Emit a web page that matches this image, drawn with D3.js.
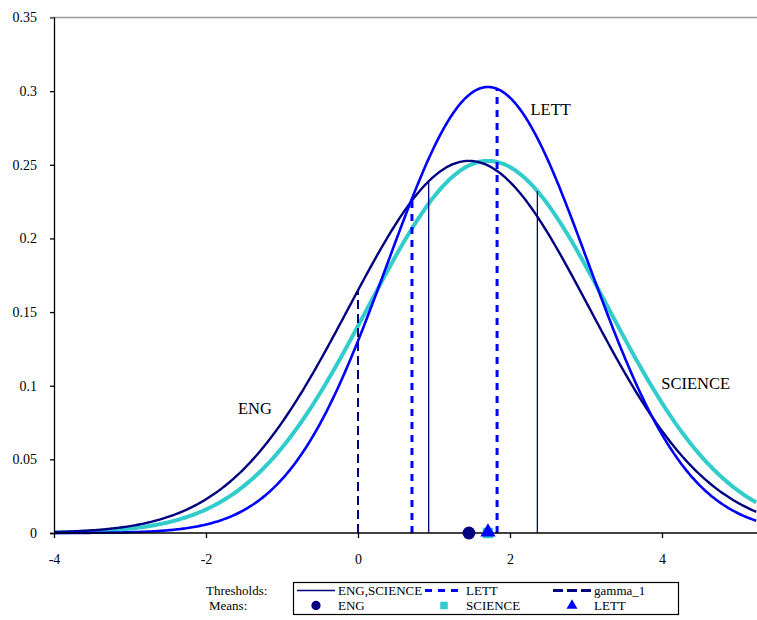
<!DOCTYPE html>
<html>
<head>
<meta charset="utf-8">
<script src="https://cdn.jsdelivr.net/npm/d3@7"></script>
<style>
    body { margin: 0; background: #fff; }
    svg { display: block; }
    svg text { font-family: "Liberation Serif", "Times New Roman", serif; fill: #000; }
</style>
</head>
<body>
<div id="chart"></div>
<script>
const groups = ["ENG", "SCIENCE", "LETT"];
const groupMeans = [1.46, 1.71, 1.71];
const groupSds = [1.579, 1.579, 1.3175];

// cut points shown as vertical lines
const thresholdNames = ["ENG,SCIENCE", "LETT", "gamma_1"];
const thresholdValues = [[0.93, 2.36], [0.71, 1.83], [0]];
const thresholdGroups = [["ENG", "SCIENCE"], ["LETT"], ["ENG", "SCIENCE", "LETT"]];

const xTicks = [-4, -2, 0, 2, 4];
const yTicks = [0, 0.05, 0.1, 0.15, 0.2, 0.25, 0.3, 0.35];

// curve labels, placed in data units
const curveLabels = ["LETT", "SCIENCE", "ENG"];
const curveLabelX = [2.27, 3.99, -1.58];
const curveLabelY = [0.284, 0.0975, 0.081];

// styles
const colors = { ENG: "#000080", SCIENCE: "#33cccc", LETT: "#0000ff" };
const widths = { ENG: 2.4, SCIENCE: 4, LETT: 2.6 };
const thresholdStyle = {
    "ENG,SCIENCE": { color: "#000080", width: 1.3, dash: null },
    "LETT": { color: "#0000ff", width: 3, dash: "7,6" },
    "gamma_1": { color: "#000080", width: 2, dash: "9,5" }
};

const W = 757, H = 620;
const margin = { left: 54, top: 17.5, right: 0, bottom: 87 };

const svg = d3.select("#chart").append("svg")
    .attr("width", W)
    .attr("height", H);

const x = d3.scaleLinear().domain([-4, 5.25]).range([margin.left, W - margin.right]);
const y = d3.scaleLinear().domain([0, 0.35]).range([H - margin.bottom, margin.top]);

function density(i, v) {
    const z = (v - groupMeans[i]) / groupSds[i];
    return Math.exp(-0.5 * z * z) / (groupSds[i] * Math.sqrt(2 * Math.PI));
}

const xs = d3.range(-4, 5.26, 0.02);

// top border of plot area
svg.append("line")
    .attr("x1", margin.left - 4).attr("x2", W)
    .attr("y1", y(0.35)).attr("y2", y(0.35))
    .attr("stroke", "#999").attr("stroke-width", 1.5);

// curves: SCIENCE underneath
const line = d3.line().x(d => x(d[0])).y(d => y(d[1]));
["SCIENCE", "ENG", "LETT"].forEach(g => {
    const i = groups.indexOf(g);
    svg.append("path")
        .datum(xs.map(v => [v, density(i, v)]))
        .attr("fill", "none")
        .attr("stroke", colors[g])
        .attr("stroke-width", widths[g])
        .attr("d", line);
});

// thresholds rise to the highest curve of their groups
thresholdNames.forEach((name, k) => {
    const st = thresholdStyle[name];
    thresholdValues[k].forEach(t => {
        const top = d3.max(thresholdGroups[k], g => density(groups.indexOf(g), t));
        svg.append("line")
            .attr("x1", x(t)).attr("x2", x(t))
            .attr("y1", y(0)).attr("y2", y(top))
            .attr("stroke", st.color)
            .attr("stroke-width", st.width)
            .attr("stroke-dasharray", st.dash);
    });
});

// axes
const yAxis = svg.append("g")
    .attr("transform", `translate(${margin.left},0)`)
    .call(d3.axisLeft(y).tickValues(yTicks).tickSize(4).tickPadding(13).tickFormat(d3.format("~g")));
const xAxis = svg.append("g")
    .attr("transform", `translate(0,${y(0)})`)
    .call(d3.axisBottom(x).tickValues(xTicks).tickSize(5).tickPadding(16).tickFormat(d => String(d)));

[xAxis, yAxis].forEach(a => {
    a.attr("font-family", null).attr("font-size", null);
    a.select(".domain").attr("stroke", "#000").attr("stroke-width", 1.3);
    a.selectAll(".tick line").attr("stroke", "#000").attr("stroke-width", 1.3);
    a.selectAll("text").style("font-size", "14px");
});
xAxis.select(".domain").attr("d", `M${margin.left},0H${W}`);
yAxis.select(".tick:last-of-type line").attr("stroke", "#999");

// means on the x axis
const markerShapes = { ENG: d3.symbolCircle, SCIENCE: d3.symbolSquare, LETT: d3.symbolTriangle };
const markerSizes = { ENG: 130, SCIENCE: 110, LETT: 100 };
function marker(sel, g) {
    sel.append("path")
        .attr("d", d3.symbol(markerShapes[g], markerSizes[g])())
        .attr("fill", colors[g]);
}
["ENG", "SCIENCE", "LETT"].forEach(g => {
    const i = groups.indexOf(g);
    const m = svg.append("g").attr("transform", `translate(${x(groupMeans[i])},${y(0) - (g === "LETT" ? 1 : 0)})`);
    marker(m, g);
});

// curve labels
curveLabels.forEach((t, i) => {
    svg.append("text")
        .attr("x", x(curveLabelX[i]))
        .attr("y", y(curveLabelY[i]))
        .style("font-size", "16.5px")
        .text(t);
});

// legend
const legend = svg.append("g");
legend.append("rect")
    .attr("x", 293.5).attr("y", 582.5)
    .attr("width", 385).attr("height", 32)
    .attr("fill", "none").attr("stroke", "#000").attr("stroke-width", 1.2);

legend.append("text").attr("x", 206).attr("y", 594.5).style("font-size", "13px").text("Thresholds:");
legend.append("text").attr("x", 209).attr("y", 609.5).style("font-size", "13px").text("Means:");

const colStart = [297, 425, 553];
thresholdNames.forEach((name, k) => {
    const st = thresholdStyle[name];
    const sx = colStart[k];
    legend.append("line")
        .attr("x1", sx).attr("x2", sx + 38)
        .attr("y1", 590.5).attr("y2", 590.5)
        .attr("stroke", st.color)
        .attr("stroke-width", name === "ENG,SCIENCE" ? 1.5 : 3)
        .attr("stroke-dasharray", name === "LETT" ? "7,6" : name === "gamma_1" ? "10,4" : null);
    legend.append("text").attr("x", sx + 41).attr("y", 594.5).style("font-size", "13px").text(name);
});
groups.forEach((g, k) => {
    const sx = colStart[k];
    const m = legend.append("g").attr("transform", `translate(${sx + 19},605.5) scale(0.72)`);
    marker(m, g);
    legend.append("text").attr("x", sx + 41).attr("y", 609.5).style("font-size", "13px").text(g);
});
</script>
</body>
</html>
